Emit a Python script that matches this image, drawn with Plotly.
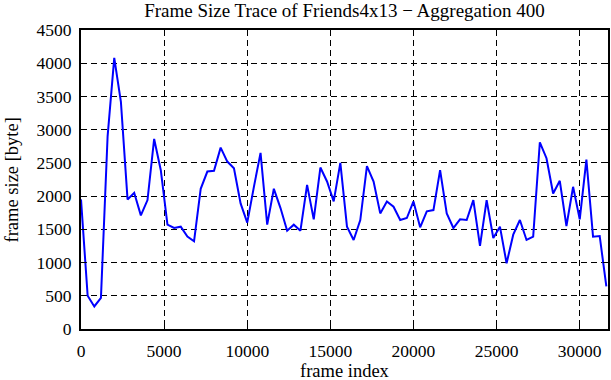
import plotly.graph_objects as go

step = 400
frame_size = [
    1950, 500, 340, 470, 2900, 4080, 3420, 1950, 2050, 1710,
    1940, 2860, 2390, 1570, 1520, 1540, 1390, 1320, 2110, 2370,
    2380, 2730, 2520, 2420, 1890, 1600, 2140, 2650, 1570, 2110,
    1820, 1480, 1570, 1480, 2170, 1650, 2430, 2220, 1920, 2500,
    1540, 1340, 1640, 2450, 2220, 1740, 1920, 1840, 1640, 1670,
    1920, 1530, 1770, 1790, 2390, 1740, 1520, 1650, 1640, 1940,
    1250, 1940, 1370, 1540, 990, 1420, 1640, 1340, 1390, 2810,
    2570, 2040, 2230, 1550, 2140, 1650, 2550, 1390, 1400, 640,
]
frame_index = [i * step for i in range(len(frame_size))]

x_ticks = [0, 5000, 10000, 15000, 20000, 25000, 30000]
y_ticks = [0, 500, 1000, 1500, 2000, 2500, 3000, 3500, 4000, 4500]

font = "Liberation Serif"
tick_size = 17.5
label_size = 18.5

fig = go.Figure()
fig.add_trace(go.Scatter(
    x=frame_index, y=frame_size, mode="lines",
    line=dict(color="#0000ff", width=2),
    showlegend=False, hoverinfo="skip",
))

axis_common = dict(
    showline=True, linecolor="black", linewidth=2, mirror="ticks",
    ticks="inside", ticklen=5, tickcolor="black", tickwidth=1,
    showgrid=True, gridcolor="black", gridwidth=1, griddash="6px,4px",
    zeroline=False, automargin=False,
    tickfont=dict(family=font, size=tick_size, color="black"),
)

fig.update_layout(
    template="none",
    width=611, height=380,
    margin=dict(l=81, r=3, t=30, b=51),
    paper_bgcolor="white", plot_bgcolor="white",
    font=dict(family=font, color="black"),
    title=dict(
        text="Frame Size Trace of Friends4x13 \u2212 Aggregation 400",
        font=dict(family=font, size=19, color="black"),
        x=0.5, xanchor="center", xref="paper",
        y=0.972, yref="container", yanchor="middle",
    ),
    xaxis=dict(
        range=[0, 31700], tickvals=x_ticks,
        ticktext=[str(v) for v in x_ticks],
        ticklabelstandoff=5,
        **axis_common,
    ),
    yaxis=dict(
        range=[0, 4500], tickvals=y_ticks,
        ticktext=[str(v) for v in y_ticks],
        ticklabelstandoff=4,
        **axis_common,
    ),
    annotations=[
        dict(text="frame index", xref="paper", yref="paper",
             x=0.5, y=-0.141, xanchor="center", yanchor="middle",
             showarrow=False, font=dict(family=font, size=label_size, color="black")),
        dict(text="frame size [byte]", xref="paper", yref="paper",
             x=-0.131, y=0.5, xanchor="center", yanchor="middle", textangle=-90,
             showarrow=False, font=dict(family=font, size=label_size, color="black")),
    ],
)

fig.write_html(
    "out.html",
    config={"displayModeBar": False},
    post_script="document.body.style.margin='0px';document.body.style.overflow='hidden';",
)
